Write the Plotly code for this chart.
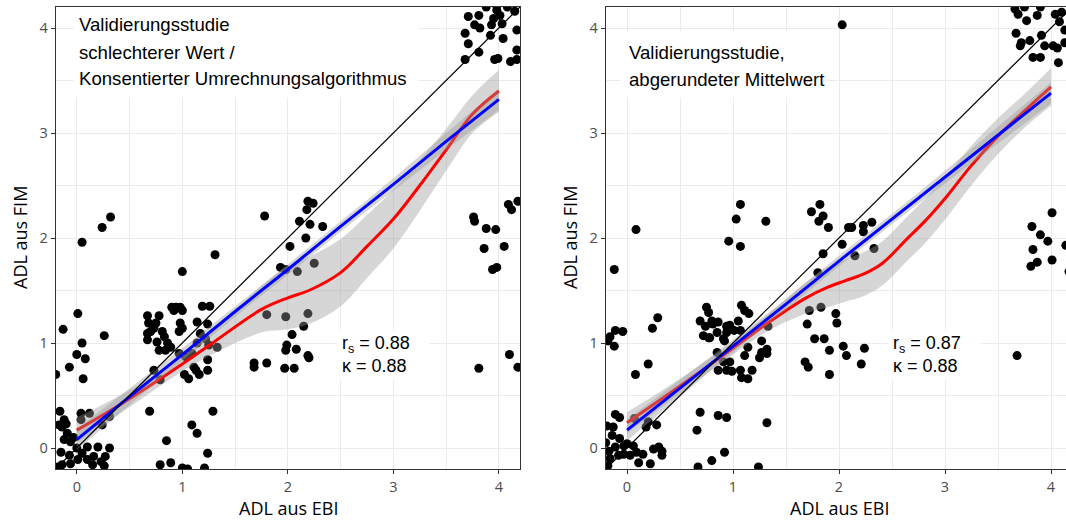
import plotly.graph_objects as go

# ---------------- data: left panel (schlechterer Wert / Konsentierter Algorithmus) ----------------
left_pts_x = [-0.16,0.04,0.12,-0.12,-0.14,-0.09,-0.12,-0.06,0.04,0.24,0.31,0.10,0.20,0.31,0.01,0.10,0.16,0.23,0.27,0.15,0.26,-0.15,-0.07,-0.06,-0.14,-0.18,-0.17,-0.10,0.00,0.05,-0.03,
              0.01,-0.13,0.26,0.05,0.00,0.08,-0.07,0.06,-0.20,0.32,0.24,0.05,
              0.69,0.85,0.79,0.89,1.00,1.05,1.09,1.14,1.24,1.21,1.29,
              0.90,0.94,0.98,1.00,0.92,1.19,1.26,0.67,0.78,0.68,0.75,0.73,0.67,0.70,0.98,1.00,0.97,1.14,1.24,0.81,0.83,0.76,0.67,0.86,0.89,0.84,0.78,1.17,1.22,1.14,1.25,1.33,0.97,1.03,1.09,1.24,1.02,1.06,1.13,1.16,1.24,1.11,0.73,0.79,1.00,1.31,
              1.68,1.68,1.80,1.78,2.19,2.24,2.18,2.11,2.21,2.33,2.17,2.02,1.93,1.98,2.09,2.25,1.80,1.98,2.19,2.15,2.04,1.99,1.98,2.08,2.19,2.20,1.97,2.06,
              3.71,3.81,3.77,3.82,3.68,3.71,3.81,3.68,3.95,3.98,4.01,3.93,4.03,3.92,4.04,3.99,3.96,4.15,4.17,4.17,4.11,4.17,3.88,3.98,4.08,
              3.76,3.77,3.88,3.97,3.86,4.05,3.94,3.98,4.09,4.12,4.18,3.81,4.10,4.18]
left_pts_y = [0.35,0.33,0.33,0.27,0.20,0.14,0.08,0.06,0.27,0.22,0.30,0.01,0.01,0.00,-0.11,-0.11,-0.08,-0.13,-0.08,-0.16,-0.17,-0.04,-0.07,-0.15,-0.16,-0.18,0.22,0.23,0.00,-0.05,0.10,
              1.28,1.13,1.07,1.00,0.89,0.85,0.77,0.66,0.70,2.20,2.10,1.96,
              0.35,0.07,-0.16,-0.14,-0.19,-0.20,0.22,0.14,-0.05,-0.19,0.35,
              1.34,1.34,1.34,1.31,1.31,1.35,1.35,1.26,1.26,1.19,1.19,1.14,1.09,1.11,1.19,1.14,1.11,1.20,1.18,1.11,1.06,1.01,1.03,1.00,0.96,0.93,0.93,1.09,1.04,1.00,0.98,0.96,0.90,0.87,0.90,0.84,0.70,0.66,0.74,0.70,0.74,0.77,0.74,0.65,1.68,1.84,
              0.81,0.77,0.81,2.21,2.35,2.33,2.27,2.16,2.13,2.11,2.00,1.92,1.72,1.70,1.68,1.76,1.27,1.25,1.28,1.16,1.08,0.98,0.93,0.94,0.88,0.86,0.76,0.76,
              4.11,4.12,4.03,4.00,3.95,3.85,3.77,3.70,4.09,4.17,4.12,4.03,4.04,3.93,3.90,3.71,3.70,4.16,3.98,3.79,3.68,3.70,4.20,4.21,4.20,
              2.20,2.16,2.09,2.08,1.90,1.92,1.70,1.72,2.32,2.27,2.35,0.76,0.89,0.77]

# ---------------- data: right panel (abgerundeter Mittelwert) ----------------
right_pts_x = [-0.11,-0.07,-0.19,-0.13,-0.14,-0.20,-0.07,0.00,0.06,0.09,-0.03,-0.08,-0.16,0.15,0.25,0.30,0.33,0.33,0.22,0.11,0.03,-0.17,-0.03,-0.11,0.07,0.20,0.18,-0.18,0.28,
               -0.11,-0.04,-0.16,-0.12,-0.18,0.29,0.24,0.20,0.08,0.085,-0.12,
               0.69,0.75,0.77,0.74,0.81,0.86,0.94,0.77,0.85,0.94,0.92,1.08,1.11,1.15,0.80,0.97,1.05,0.72,0.78,0.91,1.01,1.07,0.85,0.91,0.97,0.94,0.86,1.14,1.11,1.27,1.27,1.33,1.07,1.08,1.14,1.18,0.99,1.32,1.32,1.25,0.69,0.86,0.94,0.66,1.32,0.92,0.80,0.67,1.24,1.07,1.03,1.31,0.96,1.07,
               1.74,1.82,1.81,1.85,1.90,2.09,2.12,2.03,2.23,2.23,2.31,2.33,2.15,1.85,1.80,1.72,1.83,1.97,1.98,1.70,1.77,1.86,1.91,2.04,2.07,2.24,1.68,1.71,1.91,2.21,2.03,
               3.66,3.69,3.77,3.87,3.67,3.72,3.80,3.91,3.71,3.83,3.90,3.94,4.02,4.06,4.07,4.10,4.08,4.13,4.04,4.13,3.90,3.75,
               4.01,3.82,3.90,3.97,3.83,3.87,3.81,4.01,4.14,4.17,3.68]
right_pts_y = [0.32,0.29,0.21,0.20,0.12,0.05,0.09,0.04,0.02,-0.04,0.02,-0.07,-0.10,-0.06,-0.01,0.01,-0.03,-0.07,-0.15,-0.14,-0.07,-0.03,-0.06,0.01,0.28,0.25,0.20,-0.17,0.22,
               1.12,1.11,1.06,0.97,1.02,1.24,1.14,0.80,0.70,2.08,1.70,
               1.21,1.34,1.29,1.16,1.18,1.20,1.16,1.05,1.10,1.10,1.02,1.36,1.31,1.28,1.21,1.17,1.21,1.07,1.05,1.04,1.12,1.12,0.91,0.82,0.82,0.74,0.74,0.96,0.88,1.02,0.91,1.16,0.74,0.67,0.66,0.74,0.73,0.94,0.90,0.86,0.34,0.31,0.29,0.17,0.24,-0.04,-0.12,-0.18,-0.18,2.32,2.18,2.16,1.97,1.92,
               2.25,2.32,2.16,2.21,2.10,2.10,2.10,1.94,2.12,2.06,2.15,1.90,1.83,1.85,1.67,1.31,1.34,1.28,1.19,1.18,1.04,1.04,0.93,0.97,0.88,0.95,0.82,0.77,0.70,0.80,4.03,
               4.18,4.13,4.07,4.12,3.95,3.86,3.88,3.93,3.83,3.72,3.72,3.83,3.83,3.81,3.67,4.15,4.06,3.98,4.13,3.86,4.20,4.20,
               2.24,2.11,2.03,1.97,1.89,1.77,1.73,1.79,1.93,1.68,0.88]

# ---------------- fitted curves ----------------
fit_x = [0, 0.5, 1, 1.5, 2, 2.5, 3, 3.5, 4]
left_lm_y = [0.08, 0.49, 0.89, 1.30, 1.70, 2.11, 2.51, 2.92, 3.32]
right_lm_y = [0.17, 0.57, 0.97, 1.37, 1.78, 2.18, 2.58, 2.98, 3.38]
lm_hw = [0.10, 0.08, 0.06, 0.05, 0.05, 0.05, 0.06, 0.08, 0.10]

left_loess_x = [0, 0.5, 1, 1.3, 1.75, 2, 2.2, 2.5, 2.75, 3, 3.25, 3.5, 3.75, 4]
left_loess_y = [0.17, 0.47, 0.80, 1.01, 1.32, 1.43, 1.50, 1.67, 1.92, 2.18, 2.50, 2.84, 3.18, 3.40]
left_loess_hw = [0.12, 0.08, 0.07, 0.11, 0.22, 0.30, 0.32, 0.32, 0.30, 0.28, 0.24, 0.20, 0.18, 0.20]

right_loess_x = [0, 0.5, 1, 1.34, 1.69, 1.89, 2.05, 2.24, 2.41, 2.63, 2.82, 3.02, 3.24, 3.5, 3.76, 4]
right_loess_y = [0.24, 0.59, 0.95, 1.20, 1.43, 1.53, 1.59, 1.66, 1.76, 1.98, 2.17, 2.40, 2.68, 2.97, 3.22, 3.44]
right_loess_hw = [0.10, 0.07, 0.06, 0.08, 0.15, 0.19, 0.20, 0.21, 0.21, 0.21, 0.21, 0.20, 0.19, 0.17, 0.16, 0.18]

ref_x = [-0.2, 4.2]
ref_y = [-0.2, 4.2]

tick_vals = [0, 1, 2, 3, 4]
tick_text = ["0", "1", "2", "3", "4"]

panel_titles = [["Validierungsstudie", "schlechterer Wert /", "Konsentierter Umrechnungsalgorithmus"],
                ["Validierungsstudie,", "abgerundeter Mittelwert"]]
stats_text = ["r<sub>s</sub> = 0.88<br>κ = 0.88", "r<sub>s</sub> = 0.87<br>κ = 0.88"]

BAND = "rgba(153,153,153,0.4)"
W, H = 1066, 522

fig = go.Figure()


def add_band(x, y, hw, xa, ya):
    lo = [a - b for a, b in zip(y, hw)]
    hi = [a + b for a, b in zip(y, hw)]
    fig.add_trace(go.Scatter(x=x, y=lo, mode="lines", line=dict(width=0, shape="spline"),
                             xaxis=xa, yaxis=ya, showlegend=False, hoverinfo="skip"))
    fig.add_trace(go.Scatter(x=x, y=hi, mode="lines", line=dict(width=0, shape="spline"),
                             fill="tonexty", fillcolor=BAND,
                             xaxis=xa, yaxis=ya, showlegend=False, hoverinfo="skip"))


panels = [
    ("x", "y", left_pts_x, left_pts_y, left_lm_y, left_loess_x, left_loess_y, left_loess_hw),
    ("x2", "y2", right_pts_x, right_pts_y, right_lm_y, right_loess_x, right_loess_y, right_loess_hw),
]

for xa, ya, px, py, lmy, lx, ly, lhw in panels:
    fig.add_trace(go.Scatter(x=px, y=py, mode="markers",
                             marker=dict(color="black", size=9, line=dict(width=0)),
                             xaxis=xa, yaxis=ya, showlegend=False))
    # loess (red)
    add_band(lx, ly, lhw, xa, ya)
    fig.add_trace(go.Scatter(x=lx, y=ly, mode="lines",
                             line=dict(color="#FF0000", width=3, shape="spline", smoothing=1.0),
                             xaxis=xa, yaxis=ya, showlegend=False))
    # linear (blue)
    add_band(fit_x, lmy, lm_hw, xa, ya)
    fig.add_trace(go.Scatter(x=fit_x, y=lmy, mode="lines",
                             line=dict(color="#0000FF", width=3),
                             xaxis=xa, yaxis=ya, showlegend=False))
    # identity line
    fig.add_trace(go.Scatter(x=ref_x, y=ref_y, mode="lines",
                             line=dict(color="black", width=1.2),
                             xaxis=xa, yaxis=ya, showlegend=False))

GRID = "#EBEBEB"
axis_common = dict(tickvals=tick_vals, ticktext=tick_text, showgrid=True, gridcolor=GRID, gridwidth=1.4,
                   zeroline=False, ticks="outside", ticklen=4, tickcolor="#333333", tickwidth=1,
                   tickfont=dict(family="Open Sans", size=14.5, color="#4D4D4D"),
                   showline=True, linecolor="#333333", linewidth=1.2,
                   minor=dict(dtick=0.5, tick0=0, showgrid=True, gridcolor=GRID, gridwidth=0.7, ticks=""))

ydom = [1 - 469 / H, 1 - 7 / H]
fig.update_layout(
    width=W, height=H, margin=dict(l=0, r=0, t=0, b=0),
    paper_bgcolor="white", plot_bgcolor="white",
    xaxis=dict(domain=[55.7 / W, 520 / W], range=[-0.2, 4.2], anchor="y", mirror=True, **axis_common),
    yaxis=dict(domain=ydom, range=[-0.2, 4.2], anchor="x", mirror=True, **axis_common),
    xaxis2=dict(domain=[605.8 / W, 1.0], range=[-0.2, (1066 - 627) / 106], anchor="y2", mirror=True, **axis_common),
    yaxis2=dict(domain=ydom, range=[-0.2, 4.2], anchor="x2", mirror=False, **axis_common),
)

# white label boxes behind the texts
fig.add_shape(type="rect", xref="x", yref="y", x0=-0.03, x1=3.24, y0=3.34, y1=4.2,
              fillcolor="white", line=dict(width=0), layer="between")
fig.add_shape(type="rect", xref="x2", yref="y2", x0=-0.06, x1=1.86, y0=3.34, y1=3.97,
              fillcolor="white", line=dict(width=0), layer="between")
fig.add_shape(type="rect", xref="x", yref="y", x0=2.46, x1=3.34, y0=0.65, y1=1.13,
              fillcolor="white", line=dict(width=0), layer="between")
fig.add_shape(type="rect", xref="x2", yref="y2", x0=2.46, x1=3.34, y0=0.65, y1=1.13,
              fillcolor="white", line=dict(width=0), layer="between")

ann_font = dict(family="Liberation Sans, Arial", size=18.6, color="black")
title_y = [[4.03, 3.77, 3.52], [3.77, 3.51]]
for (xa, ya), lines, ys in zip([("x", "y"), ("x2", "y2")], panel_titles, title_y):
    for line, yy in zip(lines, ys):
        fig.add_annotation(x=0, y=yy, xref=xa, yref=ya, text=line, showarrow=False,
                           xanchor="left", yanchor="middle", font=ann_font)

for (xa, ya), txt in zip([("x", "y"), ("x2", "y2")], stats_text):
    fig.add_annotation(x=2.49, y=0.895, xref=xa, yref=ya, text=txt, showarrow=False,
                       xanchor="left", yanchor="middle", align="left",
                       font=dict(family="Liberation Sans, Arial", size=18, color="black"))

title_font = dict(family="Open Sans", size=18, color="black")
for cx in [288 / W, 839 / W]:
    fig.add_annotation(x=cx, y=1 - 508 / H, xref="paper", yref="paper", text="ADL aus EBI",
                       showarrow=False, xanchor="center", yanchor="middle", font=title_font)
for cx in [20 / W, 570 / W]:
    fig.add_annotation(x=cx, y=1 - 238 / H, xref="paper", yref="paper", text="ADL aus FIM",
                       showarrow=False, xanchor="center", yanchor="middle", textangle=-90, font=title_font)

# the page's default 8px body margin would shift the figure; remove it
fig.write_html("out.html", config={"displayModeBar": False},
               post_script="document.body.style.margin='0';document.body.style.overflow='hidden';")
